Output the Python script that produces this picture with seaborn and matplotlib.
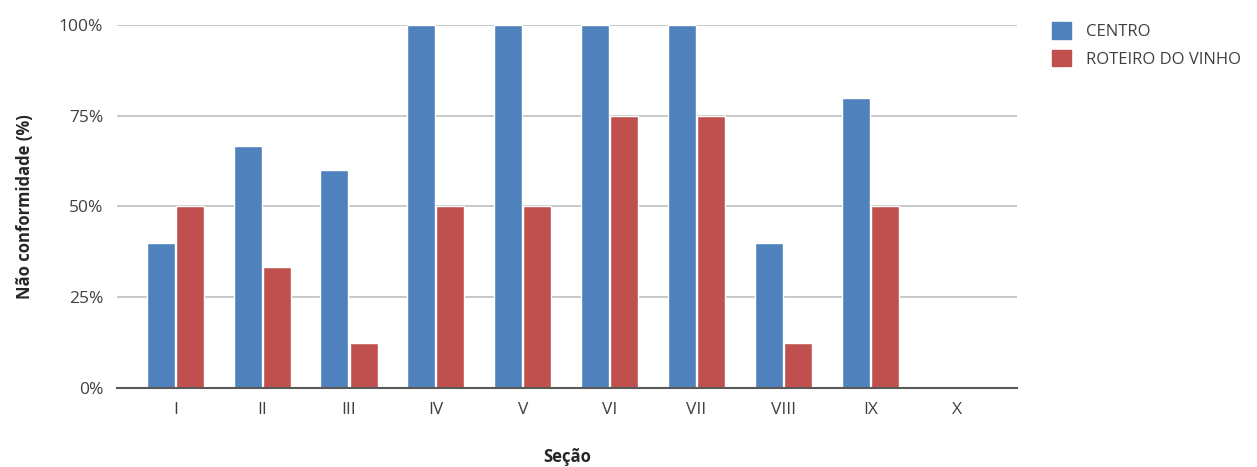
import pandas as pd
import numpy as np

import matplotlib.pyplot as plt
import seaborn as sns


secoes = ['I', 'II', 'III', 'IV', 'V', 'VI', 'VII', 'VIII', 'IX', 'X']
centro = [40, 66.7, 60, 100, 100, 100, 100, 40, 80, 0]
roteiro = [50, 33.3, 12.5, 50, 50, 75, 75, 12.5, 50, 0]
series = ['CENTRO', 'ROTEIRO DO VINHO']
cores = ['#4F81BD', '#C0504D']

df = pd.DataFrame({
    'secao': secoes * 2,
    'valor': centro + roteiro,
    'serie': [series[0]] * len(secoes) + [series[1]] * len(secoes),
})

sns.set_style('white')
plt.rcParams['font.family'] = ['Open Sans', 'DejaVu Sans']

fig = plt.figure(figsize=(12.57, 4.67), dpi=100)
ax = fig.add_axes([0.0931, 0.1692, 0.7160, 0.7773])

sns.barplot(data=df, x='secao', y='valor', hue='serie', palette=cores,
            width=0.67, gap=0.04, saturation=1, ax=ax, legend=False)

ax.set_ylim(0, 100)
ax.set_xlim(-0.67, 9.69)
ax.set_yticks([0, 25, 50, 75, 100])
ax.set_yticklabels(['0%', '25%', '50%', '75%', '100%'])
ax.yaxis.grid(True, color='#BFBFBF', linewidth=1.2)
ax.set_axisbelow(True)
for s in ['top', 'right', 'left']:
    ax.spines[s].set_visible(False)
ax.spines['bottom'].set_color('#595959')
ax.spines['bottom'].set_linewidth(1.5)
ax.tick_params(axis='both', length=0, labelsize=12.5, colors='#404040', pad=10)
ax.tick_params(axis='y', pad=10)

ax.set_xlabel('Seção', fontsize=12, fontweight='bold', labelpad=22)
ax.set_ylabel('Não conformidade (%)', fontsize=12, fontweight='bold', labelpad=18)

handles = [plt.Rectangle((0, 0), 1, 1, color=c) for c in cores]
fig.legend(handles, series, loc='upper left', bbox_to_anchor=(0.825, 0.985),
           frameon=False, fontsize=12, handlelength=1.15, handleheight=1.15,
           labelspacing=0.6, handletextpad=0.9, labelcolor='#404040')

fig.savefig('out.png', dpi=100, facecolor='white')
